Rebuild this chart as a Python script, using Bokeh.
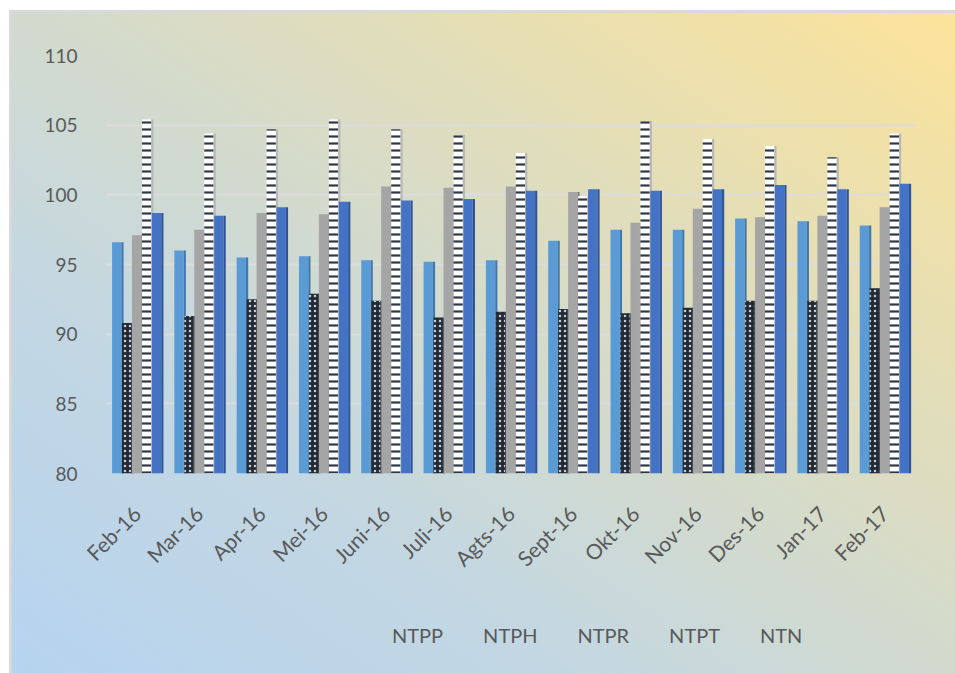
from bokeh.plotting import figure
from bokeh.models import ColumnDataSource, FactorRange, Legend, LegendItem, CDSView, IndexFilter
from bokeh.layouts import column
from bokeh.transform import dodge
from bokeh.embed import file_html
from bokeh.resources import INLINE
import math

months = ["Feb-16", "Mar-16", "Apr-16", "Mei-16", "Juni-16", "Juli-16", "Agts-16",
          "Sept-16", "Okt-16", "Nov-16", "Des-16", "Jan-17", "Feb-17"]
NTPP = [96.6, 96.0, 95.5, 95.6, 95.3, 95.2, 95.3, 96.7, 97.5, 97.5, 98.3, 98.1, 97.8]
NTPH = [90.8, 91.3, 92.5, 92.9, 92.4, 91.2, 91.6, 91.8, 91.5, 91.9, 92.4, 92.4, 93.3]
NTPR = [97.1, 97.5, 98.7, 98.6, 100.6, 100.5, 100.6, 100.2, 98.0, 99.0, 98.4, 98.5, 99.1]
NTPT = [105.4, 104.4, 104.7, 105.4, 104.7, 104.3, 103.0, 99.9, 105.3, 104.0, 103.5, 102.7, 104.4]
NTN = [98.7, 98.5, 99.1, 99.5, 99.6, 99.7, 100.3, 100.4, 100.3, 100.4, 100.7, 100.4, 100.8]
y_ticks = [80, 85, 90, 95, 100, 105, 110]

src = ColumnDataSource(dict(month=months, NTPP=NTPP, NTPH=NTPH, NTPR=NTPR, NTPT=NTPT, NTN=NTN))

FONT = "Lato"
TXT = "#595959"

p = figure(x_range=FactorRange(*months), y_range=(80, 110),
           frame_width=810, frame_height=418,
           min_border_left=93, min_border_right=40, min_border_top=42, min_border_bottom=130,
           output_backend="svg", toolbar_location=None,
           background_fill_color=None, border_fill_color=None, outline_line_color=None)

# legend strip below the chart (its renderers draw no rows, only the legend shows)
p2 = figure(x_range=p.x_range, y_range=(200, 201), width=943, height=70,
            min_border_left=0, min_border_right=15, min_border_top=0, min_border_bottom=6,
            x_axis_location=None, y_axis_location=None,
            output_backend="svg", toolbar_location=None,
            background_fill_color=None, border_fill_color=None, outline_line_color=None)
p2.xgrid.grid_line_color = None
p2.ygrid.grid_line_color = None

W = 0.15
SIDE = 0.035
series = [
    ("NTPP", -0.32, dict(fill_color="#5b9bd5"), "#3f78ad"),
    ("NTPH", -0.16, dict(fill_color="#222a35", hatch_pattern="dot", hatch_color="#c9ced6",
                         hatch_scale=5, hatch_weight=1.2), "#151a22"),
    ("NTPR", 0.0, dict(fill_color="#a5a5a5"), "#858585"),
    ("NTPT", 0.16, dict(fill_color="#ffffff", hatch_pattern="horizontal_line", hatch_color="#2e3744",
                        hatch_scale=7, hatch_weight=2.2), "#b8b8b8"),
    ("NTN", 0.32, dict(fill_color="#4472c4"), "#2e5497"),
]
items = []
for name, off, kw, side_col in series:
    p.vbar(x=dodge("month", off, range=p.x_range), top=name, bottom=80, width=W,
           source=src, line_color=None, **kw)
    p.vbar(x=dodge("month", off + W / 2 + SIDE / 2, range=p.x_range), top=name, bottom=80,
           width=SIDE, source=src, line_color=None, fill_color=side_col)
    r2 = p2.vbar(x=dodge("month", off, range=p.x_range), top=name, bottom=80, width=W,
                 source=src, line_color=None, view=CDSView(filter=IndexFilter(indices=[])), **kw)
    items.append(LegendItem(label=name, renderers=[r2]))

p.yaxis.ticker = y_ticks
p.ygrid.grid_line_color = "#dcdcdc"
p.ygrid.grid_line_width = 2
p.xgrid.grid_line_color = None
for ax in (p.xaxis[0], p.yaxis[0]):
    ax.axis_line_color = None
    ax.major_tick_line_color = None
    ax.minor_tick_line_color = None
    ax.major_label_text_font = FONT
    ax.major_label_text_color = TXT
p.yaxis.major_label_text_font_size = "19px"
p.yaxis.major_label_standoff = 22
p.xaxis.major_label_text_font_size = "21px"
p.xaxis.major_label_orientation = math.pi / 4
p.xaxis.major_label_standoff = 30

legend = Legend(items=items, orientation="horizontal", location=(267, 20),
                label_text_font=FONT, label_text_font_size="20px", label_text_color=TXT,
                glyph_width=14, glyph_height=14, spacing=20, label_standoff=6,
                padding=0, margin=0,
                background_fill_alpha=0, border_line_color=None)
p2.add_layout(legend, "center")

root = column(p, p2, spacing=0)
root.styles = {
    "margin-left": "9px", "margin-top": "10px",
    "border-left": "3px solid #d9d9d9", "border-top": "3px solid #d9d9d9",
    "background": "linear-gradient(to top right, #b6d3ef 0%, #c3d7e2 30%, #d6dbc9 55%, #e9dfb0 78%, #fce39a 100%)",
}

open("out.html", "w").write(file_html(root, INLINE))
